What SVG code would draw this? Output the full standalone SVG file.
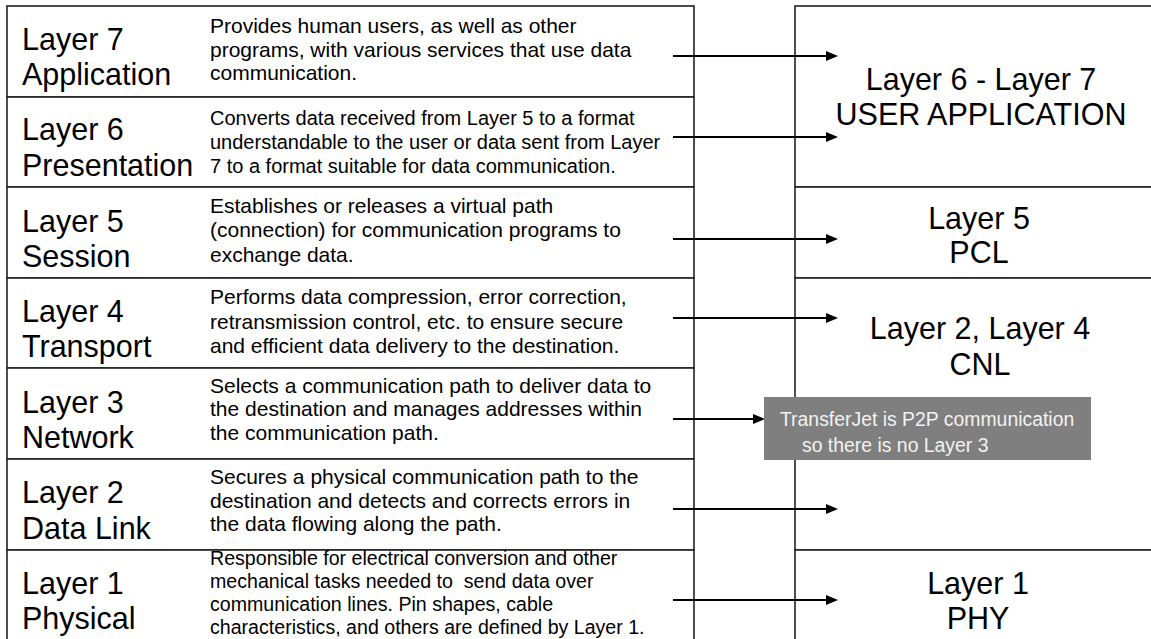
<svg xmlns="http://www.w3.org/2000/svg" width="1151" height="639" viewBox="0 0 1151 639">
<style>
  .box { fill: #ffffff; stroke: #222222; stroke-width: 1.6; }
  .lbl { font-family: "Liberation Sans", Arial, sans-serif; font-size: 30.5px; fill: #000000; }
  .desc { font-family: "Liberation Sans", Arial, sans-serif; font-size: 21px; fill: #000000; }
  .desc.mid { font-size: 20px; }
  .desc.small { font-size: 19.6px; }
  .rlbl { font-family: "Liberation Sans", Arial, sans-serif; font-size: 30.5px; fill: #000000; text-anchor: middle; }
  .note { font-family: "Liberation Sans", Arial, sans-serif; font-size: 19.4px; fill: #f2f2f2; }
  .arrow { stroke: #000000; stroke-width: 2.2; fill: none; marker-end: url(#ah); }
</style>
<defs>
  <marker id="ah" markerUnits="userSpaceOnUse" markerWidth="12" markerHeight="10" refX="0" refY="5" orient="auto">
    <path d="M0,0 L12,5 L0,10 z" fill="#000000"/>
  </marker>
</defs>
<rect x="0" y="0" width="1151" height="639" fill="#ffffff"/>

<g id="layer7">
  <rect class="box" x="7" y="6" width="687" height="91"/>
  <text class="lbl" x="22" y="50">Layer 7</text>
  <text class="lbl" x="22" y="85">Application</text>
  <text class="desc" x="210" y="33">Provides human users, as well as other</text>
  <text class="desc" x="210" y="56.5">programs, with various services that use data</text>
  <text class="desc" x="210" y="80">communication.</text>
</g>
<g id="layer6">
  <rect class="box" x="7" y="97" width="687" height="90"/>
  <text class="lbl" x="22" y="140">Layer 6</text>
  <text class="lbl" x="22" y="176">Presentation</text>
  <text class="desc mid" x="210" y="125">Converts data received from Layer 5 to a format</text>
  <text class="desc mid" x="210" y="148.5">understandable to the user or data sent from Layer</text>
  <text class="desc mid" x="210" y="172.5">7 to a format suitable for data communication.</text>
</g>
<g id="layer5">
  <rect class="box" x="7" y="187" width="687" height="91"/>
  <text class="lbl" x="22" y="232">Layer 5</text>
  <text class="lbl" x="22" y="267">Session</text>
  <text class="desc" x="210" y="212.5">Establishes or releases a virtual path</text>
  <text class="desc" x="210" y="237">(connection) for communication programs to</text>
  <text class="desc" x="210" y="262">exchange data.</text>
</g>
<g id="layer4">
  <rect class="box" x="7" y="278" width="687" height="90"/>
  <text class="lbl" x="22" y="322">Layer 4</text>
  <text class="lbl" x="22" y="357">Transport</text>
  <text class="desc" x="210" y="304">Performs data compression, error correction,</text>
  <text class="desc" x="210" y="328.5">retransmission control, etc. to ensure secure</text>
  <text class="desc" x="210" y="353">and efficient data delivery to the destination.</text>
</g>
<g id="layer3">
  <rect class="box" x="7" y="368" width="687" height="91"/>
  <text class="lbl" x="22" y="412.5">Layer 3</text>
  <text class="lbl" x="22" y="448">Network</text>
  <text class="desc" x="210" y="393">Selects a communication path to deliver data to</text>
  <text class="desc" x="210" y="416">the destination and manages addresses within</text>
  <text class="desc" x="210" y="439.5">the communication path.</text>
</g>
<g id="layer2">
  <rect class="box" x="7" y="459" width="687" height="91"/>
  <text class="lbl" x="22" y="503">Layer 2</text>
  <text class="lbl" x="22" y="538.5">Data Link</text>
  <text class="desc" x="210" y="484">Secures a physical communication path to the</text>
  <text class="desc" x="210" y="507.5">destination and detects and corrects errors in</text>
  <text class="desc" x="210" y="531">the data flowing along the path.</text>
</g>
<g id="layer1">
  <rect class="box" x="7" y="550" width="687" height="100"/>
  <text class="lbl" x="22" y="593.5">Layer 1</text>
  <text class="lbl" x="22" y="629">Physical</text>
  <text class="desc small" x="210" y="565">Responsible for electrical conversion and other</text>
  <text class="desc small" x="210" y="588" xml:space="preserve">mechanical tasks needed to  send data over</text>
  <text class="desc small" x="210" y="611">communication lines. Pin shapes, cable</text>
  <text class="desc small" x="210" y="634">characteristics, and others are defined by Layer 1.</text>
</g>

<g id="user-application">
  <rect class="box" x="795" y="6" width="370" height="181"/>
  <text class="rlbl" x="981" y="90">Layer 6 - Layer 7</text>
  <text class="rlbl" x="981" y="125">USER APPLICATION</text>
</g>
<g id="pcl">
  <rect class="box" x="795" y="187" width="370" height="91"/>
  <text class="rlbl" x="979" y="229">Layer 5</text>
  <text class="rlbl" x="979" y="263">PCL</text>
</g>
<g id="cnl">
  <rect class="box" x="795" y="278" width="370" height="272"/>
  <text class="rlbl" x="980" y="339">Layer 2, Layer 4</text>
  <text class="rlbl" x="980" y="375">CNL</text>
</g>
<g id="phy">
  <rect class="box" x="795" y="550" width="370" height="100"/>
  <text class="rlbl" x="978" y="594">Layer 1</text>
  <text class="rlbl" x="978" y="629">PHY</text>
</g>

<g id="connectors">
  <line class="arrow" x1="673" y1="56" x2="826" y2="56"/>
  <line class="arrow" x1="673" y1="137" x2="826" y2="137"/>
  <line class="arrow" x1="673" y1="239" x2="826" y2="239"/>
  <line class="arrow" x1="673" y1="318" x2="826" y2="318"/>
  <line class="arrow" x1="673" y1="419" x2="753" y2="419"/>
  <line class="arrow" x1="673" y1="509" x2="826" y2="509"/>
  <line class="arrow" x1="673" y1="600" x2="826" y2="600"/>
</g>

<g id="note">
  <rect x="764" y="397" width="327" height="63" fill="#7f7f7f"/>
  <text class="note" x="780" y="426">TransferJet is P2P communication</text>
  <text class="note" x="802" y="452">so there is no Layer 3</text>
</g>
</svg>
